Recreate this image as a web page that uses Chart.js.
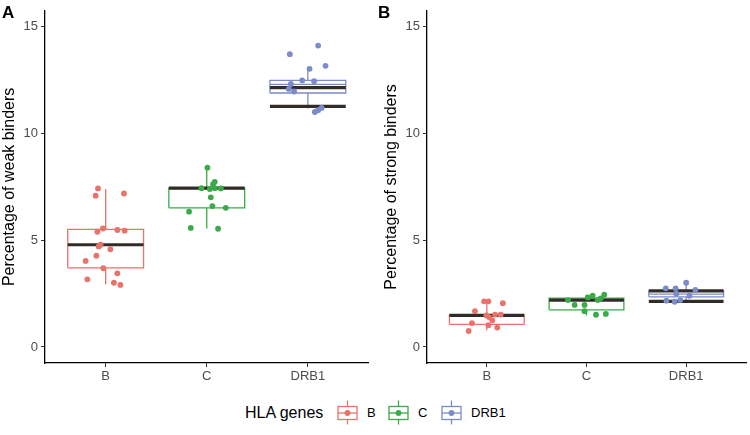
<!DOCTYPE html>
<html><head><meta charset="utf-8">
<script src="https://cdn.jsdelivr.net/npm/chart.js@4"></script>
<style>
body{margin:0;width:750px;height:435px;background:#fff;position:relative;overflow:hidden;font-family:"Liberation Sans",Arial,sans-serif}
.wrap{position:absolute;top:0;width:375px;height:395px}
.tag{position:absolute;font-weight:bold;font-size:17px;color:#000;line-height:1}
.leg{position:absolute;color:#000;line-height:1;white-space:nowrap}
svg{position:absolute}
</style></head>
<body>
<div class="wrap" style="left:0"><canvas id="cA" width="375" height="395"></canvas></div>
<div class="wrap" style="left:375px"><canvas id="cB" width="375" height="395"></canvas></div>
<div class="tag" style="left:2px;top:4px">A</div>
<div class="tag" style="left:378px;top:4px">B</div>
<div id="legend"></div>
<script>
// ---- data ----
const categories = ['B', 'C', 'DRB1'];
const yTicks = [0, 5, 10, 15];
const legendTitle = 'HLA genes';
const colors = ['#E8736A', '#3BAA48', '#7B8CC8'];

// Panel A: weak binders (box statistics per category)
const weakLower  = [2.94, 5.55, 11.17];
const weakQ1     = [3.71, 6.52, 11.90];
const weakMedian = [4.79, 7.42, 12.30];
const weakQ3     = [5.51, 7.44, 12.49];
const weakUpper  = [7.40, 8.48, 13.10];
const weakMark1  = [4.79, 7.44, 12.15];
const weakMark2  = [null, null, 11.27];
// jittered points (x position, value)
const weakBx = [0.924,0.901,1.181,0.973,0.918,1.116,1.188,0.950,0.931,1.047,0.908,0.802,0.977,0.819,1.116,1.082,1.146];
const weakBy = [7.43,7.09,7.19,5.55,5.40,5.48,5.45,4.79,4.71,4.58,4.28,4.03,3.69,3.17,3.45,3.01,2.91];
const weakCx = [2.007,2.079,2.062,1.948,2.030,2.079,2.139,2.040,2.056,2.188,1.825,1.842,2.112];
const weakCy = [8.40,7.74,7.63,7.44,7.40,7.44,7.43,7.01,6.60,6.52,6.34,5.58,5.54];
const weakDx = [2.822,3.102,3.175,3.017,2.944,3.062,2.832,2.812,2.864,3.069,3.102,3.136];
const weakDy = [13.72,14.12,13.17,13.03,12.49,12.45,12.32,12.09,11.97,11.01,11.09,11.20];

// Panel B: strong binders
const strongLower  = [0.78, 1.48, 2.12];
const strongQ1     = [1.06, 1.74, 2.35];
const strongMedian = [1.45, 2.20, 2.48];
const strongQ3     = [1.52, 2.29, 2.63];
const strongUpper  = [2.17, 2.45, 3.01];
const strongMark1  = [1.48, 2.20, 2.63];
const strongMark2  = [null, null, 2.14];
const strongBx = [0.973,1.016,1.161,0.881,0.996,1.023,1.082,1.139,1.055,0.851,1.016,1.105,0.818];
const strongBy = [2.14,2.14,2.05,1.68,1.48,1.40,1.52,1.52,1.25,1.12,1.02,0.91,0.75];
const strongCx = [1.815,1.881,1.980,2.013,2.062,2.112,2.178,2.142,1.980,2.095,2.194];
const strongCy = [2.20,1.97,1.97,2.32,2.40,2.20,2.45,2.28,1.68,1.51,1.55];
const strongDx = [3.000,2.795,2.894,3.092,2.802,2.884,2.941,3.033,2.901];
const strongDy = [3.01,2.75,2.75,2.68,2.17,2.12,2.20,2.40,2.50];

// ---- styling constants ----
const HW = 0.375; // half box width in category units
const markColor = '#322c29';

function seg(pts, color, width, order) {
  return {type:'line', data: pts, borderColor: color, borderWidth: width, pointRadius: 0,
          pointHoverRadius: 0, fill: false, tension: 0, order: order, borderCapStyle: 'butt'};
}

function buildDatasets(lower, q1, med, q3, upper, m1, m2, pxs, pys) {
  const ds = [];
  categories.forEach((c, i) => {
    const x = i + 1, col = colors[i];
    ds.push(seg([{x:x-HW,y:q1[i]},{x:x+HW,y:q1[i]},{x:x+HW,y:q3[i]},{x:x-HW,y:q3[i]},{x:x-HW,y:q1[i]}], col, 1.3, 3));
    ds.push(seg([{x:x-HW,y:med[i]},{x:x+HW,y:med[i]}], col, 1.3, 3));
    ds.push(seg([{x:x,y:q3[i]},{x:x,y:upper[i]}], col, 1.3, 3));
    ds.push(seg([{x:x,y:lower[i]},{x:x,y:q1[i]}], col, 1.3, 3));
    if (m1[i] !== null) ds.push(seg([{x:x-HW,y:m1[i]},{x:x+HW,y:m1[i]}], markColor, 3.2, 2));
    if (m2[i] !== null) ds.push(seg([{x:x-HW,y:m2[i]},{x:x+HW,y:m2[i]}], markColor, 3.2, 2));
    ds.push({type:'scatter', data: pxs[i].map((v,k)=>({x:v, y:pys[i][k]})), backgroundColor: col,
             borderWidth: 0, pointRadius: 2.9, order: 1});
  });
  return ds;
}

function makeChart(id, title, yWidth, titlePad, padRight, datasets) {
  return new Chart(document.getElementById(id), {
    type: 'scatter',
    data: {datasets: datasets},
    options: {
      responsive: false, animation: false, devicePixelRatio: 1,
      layout: {padding: {top: 6, right: padRight, left: 0, bottom: 0}},
      plugins: {legend: {display: false}, tooltip: {enabled: false}},
      scales: {
        x: {
          type: 'linear', min: 0.4, max: 3.6,
          afterBuildTicks: s => { s.ticks = categories.map((c,i)=>({value:i+1})); },
          afterFit: s => { s.height = 32; },
          ticks: {callback: v => categories[v-1], color: '#4d4d4d', font: {size: 13, family: 'Liberation Sans'}, padding: 2, maxRotation: 0},
          grid: {display: true, drawOnChartArea: false, drawTicks: true, tickLength: 4, color: '#333', lineWidth: 1},
          border: {display: true, color: '#000', width: 1.3}
        },
        y: {
          type: 'linear', min: -0.75, max: 15.75,
          afterBuildTicks: s => { s.ticks = yTicks.map(v=>({value:v})); },
          afterFit: s => { s.width = yWidth; },
          ticks: {color: '#4d4d4d', font: {size: 13, family: 'Liberation Sans'}, padding: 3},
          grid: {display: true, drawOnChartArea: false, drawTicks: true, tickLength: 4, color: '#333', lineWidth: 1},
          border: {display: true, color: '#000', width: 1.3},
          title: {display: true, text: title, color: '#000', font: {size: 16, family: 'Liberation Sans'}, padding: {top: titlePad, bottom: 0}}
        }
      }
    }
  });
}

makeChart('cA', 'Percentage of weak binders', 45, 0, 6.5,
  buildDatasets(weakLower, weakQ1, weakMedian, weakQ3, weakUpper, weakMark1, weakMark2,
    [weakBx, weakCx, weakDx], [weakBy, weakCy, weakDy]));
makeChart('cB', 'Percentage of strong binders', 52, 7, 0,
  buildDatasets(strongLower, strongQ1, strongMedian, strongQ3, strongUpper, strongMark1, strongMark2,
    [strongBx, strongCx, strongDx], [strongBy, strongCy, strongDy]));

// ---- legend ----
const leg = document.getElementById('legend');
const t = document.createElement('div');
t.className = 'leg'; t.style.left = '245px'; t.style.top = '405px'; t.style.fontSize = '16px';
t.textContent = legendTitle; leg.appendChild(t);
const keyLeft = [337, 388, 441];
categories.forEach((c, i) => {
  const col = colors[i];
  const svg = document.createElementNS('http://www.w3.org/2000/svg','svg');
  svg.setAttribute('width','22'); svg.setAttribute('height','25');
  svg.style.left = keyLeft[i] + 'px'; svg.style.top = '400px';
  svg.innerHTML = `<rect x="1" y="6.5" width="19" height="13" fill="#fff" stroke="${col}" stroke-width="1.3"/>
    <line x1="1" y1="13" x2="20" y2="13" stroke="${col}" stroke-width="1.3"/>
    <line x1="10.5" y1="0.5" x2="10.5" y2="6.5" stroke="${col}" stroke-width="1.3"/>
    <line x1="10.5" y1="19.5" x2="10.5" y2="24.5" stroke="${col}" stroke-width="1.3"/>
    <circle cx="10.5" cy="13" r="2.9" fill="${col}"/>`;
  leg.appendChild(svg);
  const l = document.createElement('div');
  l.className = 'leg'; l.style.left = (keyLeft[i] + 30) + 'px'; l.style.top = '406px'; l.style.fontSize = '13px';
  l.textContent = c; leg.appendChild(l);
});
</script>
</body></html>
